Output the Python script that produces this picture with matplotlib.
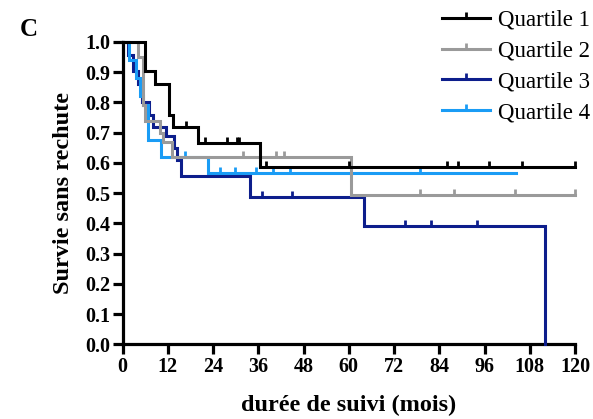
import numpy as np
import matplotlib
matplotlib.use("Agg")
import matplotlib.pyplot as plt
from matplotlib.lines import Line2D

# Kaplan-Meier curves (months, survival)
q1_times = [0, 5.9, 8.5, 12.3, 13.4, 20.0, 36.3]
q1_surv = [1.0, 0.905, 0.86, 0.76, 0.72, 0.667, 0.588]
q1_end = 120
q1_cens = [16.9, 21.8, 27.8, 30.2, 30.9, 38.0, 60.1, 86.0, 88.9, 97.2, 106.0, 120.0]

q2_times = [0, 4.0, 5.4, 5.8, 9.8, 10.6, 13.1, 60.7]
q2_surv = [1.0, 0.95, 0.79, 0.737, 0.70, 0.67, 0.62, 0.494]
q2_end = 120
q2_cens = [31.8, 40.8, 42.9, 78.9, 88.0, 104.0, 120.0]

q3_times = [0, 1.5, 2.8, 4.0, 5.0, 7.0, 8.0, 11.5, 13.5, 14.5, 15.5, 33.8, 64.0, 112.0]
q3_surv = [1.0, 0.957, 0.905, 0.86, 0.80, 0.76, 0.72, 0.69, 0.65, 0.61, 0.557, 0.487, 0.39, 0.0]
q3_end = 112
q3_cens = [36.9, 44.8, 74.9, 81.9, 93.9]

q4_times = [0, 1.8, 3.6, 4.6, 5.5, 6.7, 10.2, 22.7]
q4_surv = [1.0, 0.94, 0.88, 0.82, 0.79, 0.675, 0.62, 0.568]
q4_end = 104.3
q4_cens = [16.5, 25.8, 29.8, 35.4, 40.0, 44.4, 78.9]

labels = ["Quartile 1", "Quartile 2", "Quartile 3", "Quartile 4"]
colors = ["#000000", "#9a9a9a", "#0d1e8c", "#1a9cf5"]
zorders = [6, 5, 3, 4]

x_ticks = list(range(0, 121, 12))
y_ticks = [i / 10 for i in range(11)]

plt.rcParams['font.family'] = ['Liberation Serif', 'DejaVu Serif']

fig = plt.figure(figsize=(5.93, 4.19), dpi=100)
ax = fig.add_axes([0.2069, 0.1783, 0.7627, 0.7215])

curves = [
    (q1_times, q1_surv, q1_end, q1_cens),
    (q2_times, q2_surv, q2_end, q2_cens),
    (q3_times, q3_surv, q3_end, q3_cens),
    (q4_times, q4_surv, q4_end, q4_cens),
]

for (t, s, end, cens), col, zo in zip(curves, colors, zorders):
    tt = np.array(t + [end])
    ss = np.array(s + [s[-1]])
    ax.step(tt, ss, where='post', color=col, lw=2.2, zorder=zo,
            clip_on=False, solid_joinstyle='miter')
    # censor marks sit on the step level at that time
    idx = np.searchsorted(np.array(t), cens, side='right') - 1
    ax.plot(cens, np.array(s)[idx], linestyle='none', marker=2,
            markersize=4.5, mew=2, color=col, zorder=zo, clip_on=False)

ax.set_xlim(0, 120)
ax.set_ylim(0, 1.0)
ax.set_xticks(x_ticks)
ax.set_yticks(y_ticks)
ax.set_yticklabels(["{:.1f}".format(v) for v in y_ticks])

for side in ['top', 'right']:
    ax.spines[side].set_visible(False)
for side in ['left', 'bottom']:
    ax.spines[side].set_linewidth(2.3)
ax.tick_params(direction='out', length=7, width=2.3, labelsize=14.5, pad=2)
for lab in ax.get_xticklabels() + ax.get_yticklabels():
    lab.set_fontweight('bold')

ax.set_xlabel("durée de suivi (mois)", fontsize=17.5, fontweight='bold', labelpad=13)
ax.set_ylabel("Survie sans rechute", fontsize=17.5, fontweight='bold', labelpad=8)

fig.text(0.034, 0.915, "C", fontsize=18, fontweight='bold')

handles = [Line2D([0], [0], color=c, lw=2.2, marker=2, markersize=4.5, mew=2)
           for c in colors]
fig.legend(handles, labels, loc='upper left', bbox_to_anchor=(0.745, 0.977),
           frameon=False, fontsize=16.5, handlelength=2.1, handletextpad=0.35,
           labelspacing=0.43, borderpad=0, borderaxespad=0, numpoints=1)

fig.savefig("out.png", dpi=100)
